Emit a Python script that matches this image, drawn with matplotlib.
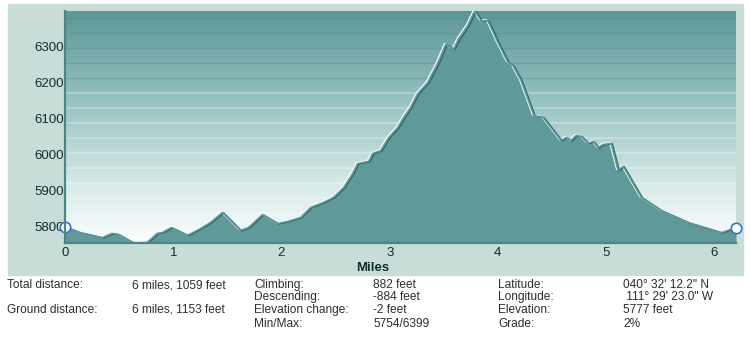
import numpy as np
import matplotlib
matplotlib.use('Agg')
import matplotlib.pyplot as plt
import matplotlib.patheffects as pe
from matplotlib.colors import LinearSegmentedColormap
from matplotlib.patches import Rectangle

plt.rcParams['font.family'] = ['Liberation Sans', 'DejaVu Sans']

# elevation profile: distance (miles) vs elevation (feet)
miles = [0.000, 0.139, 0.259, 0.343, 0.435, 0.491, 0.620, 0.648, 0.759, 0.852,
         0.898, 0.981, 1.093, 1.130, 1.250, 1.343, 1.454, 1.620, 1.694, 1.824,
         1.963, 2.056, 2.176, 2.269, 2.389, 2.481, 2.574, 2.657, 2.704, 2.806,
         2.843, 2.917, 2.991, 3.074, 3.130, 3.194, 3.259, 3.352, 3.444, 3.519,
         3.565, 3.593, 3.639, 3.722, 3.787, 3.843, 3.907, 4.000, 4.093, 4.139,
         4.213, 4.333, 4.417, 4.583, 4.630, 4.676, 4.722, 4.769, 4.833, 4.880,
         4.926, 4.972, 5.046, 5.111, 5.157, 5.324, 5.509, 5.759, 5.944, 6.065,
         6.2006]
elev = [5799, 5783, 5775, 5769, 5781, 5778, 5756, 5754, 5756, 5781,
        5783, 5797, 5781, 5775, 5794, 5811, 5839, 5789, 5797, 5833,
        5808, 5814, 5825, 5853, 5867, 5881, 5908, 5947, 5975, 5981,
        6003, 6011, 6047, 6075, 6103, 6131, 6169, 6200, 6253, 6306,
        6297, 6294, 6322, 6358, 6399, 6372, 6372, 6311, 6256, 6247,
        6206, 6108, 6103, 6039, 6047, 6039, 6053, 6050, 6031, 6036,
        6019, 6028, 6031, 5956, 5967, 5881, 5844, 5811, 5794, 5783,
        5797]

x_ticks = [0, 1, 2, 3, 4, 5, 6]
y_ticks = [5800, 5900, 6000, 6100, 6200, 6300]
y_min, y_max = 5754, 6399
total_miles = 6.2006

# summary table below the chart, one list per column
col1 = ['Total distance:', '', 'Ground distance:', '']
col2 = ['6 miles, 1059 feet', '', '6 miles, 1153 feet', '']
col3 = ['Climbing:', 'Descending:', 'Elevation change:', 'Min/Max:']
col4 = ['882 feet', '-884 feet', '-2 feet', '5754/6399']
col5 = ['Latitude:', 'Longitude:', 'Elevation:', 'Grade:']
col6 = ['040\u00b0 32\' 12.2" N', ' 111\u00b0 29\' 23.0" W', '5777 feet', '2%']

W, H = 750, 342
fig = plt.figure(figsize=(W / 100, H / 100), dpi=100)
panel = Rectangle((8 / W, 1 - 275 / H), 735 / W, 271 / H,
                  transform=fig.transFigure, color='#c8ddd7', zorder=-5)
fig.add_artist(panel)

ax = fig.add_axes([65 / W, 99 / H, 671 / W, 232 / H])
ax.set_zorder(1)
ax.patch.set_alpha(0)
ax.set_xlim(0, total_miles)
ax.set_ylim(y_min, y_max)

# vertical gradient background, dark teal at top fading to white
cmap = LinearSegmentedColormap.from_list('bg', [
    (0.0, (0.365, 0.592, 0.592)),
    (0.45, (0.63, 0.79, 0.78)),
    (0.75, (0.84, 0.92, 0.91)),
    (1.0, (0.99, 0.997, 0.997))])
grad = np.linspace(0, 1, 256).reshape(-1, 1)
ax.imshow(grad, extent=[0, 1, 0, 1], transform=ax.transAxes, aspect='auto',
          cmap=cmap, zorder=0, origin='upper')

# banding lines across the background
for py in range(18, 243, 15):
    frac = 1 - (py - 11) / 232
    if py <= 78:
        ax.plot([0, 1], [frac, frac], transform=ax.transAxes, color='#4f8686',
                lw=1, alpha=0.35, zorder=1)
    else:
        ax.plot([0, 1], [frac, frac], transform=ax.transAxes, color='white',
                lw=1.1, alpha=0.35, zorder=1)

fill_col = '#5f9999'
ax.fill_between(miles, elev, y_min, color=fill_col, lw=0, zorder=2)
ax.plot(miles, elev, color=fill_col, lw=1, zorder=3,
        path_effects=[pe.SimpleLineShadow(offset=(-1.0, 0.6), shadow_color='#eef8f6', alpha=1),
                      pe.SimpleLineShadow(offset=(1.0, -0.3), shadow_color='#2b5f5f', alpha=0.9),
                      pe.Normal()])

# start/end markers
ax.plot([0, 0], [y_min, elev[0]], color='white', lw=1.5, zorder=4, clip_on=False)
ax.plot([miles[0], miles[-1]], [elev[0], elev[-1]], ls='none', marker='o', ms=7.5,
        mfc='white', mec='#3b6fd6', mew=1.2, zorder=5, clip_on=False)

for side in ['top', 'right']:
    ax.spines[side].set_visible(False)
for side in ['left', 'bottom']:
    ax.spines[side].set_color('#4a8686')
    ax.spines[side].set_linewidth(1.6)
    ax.spines[side].set_zorder(6)

ax.set_xticks(x_ticks)
ax.set_yticks(y_ticks)
ax.tick_params(axis='both', length=0, labelsize=9.5, labelcolor='#0f2f2d')
ax.tick_params(axis='y', pad=1)
ax.tick_params(axis='x', pad=3)

fig.text(373 / W, 1 - 268 / H, 'Miles', ha='center', va='center',
         fontsize=9.5, fontweight='bold', color='#0f2f2d')

row_y = [285, 297, 310, 324]
col_x = [7, 132, 254, 373, 498, 623]
for x, col in zip(col_x, [col1, col2, col3, col4, col5, col6]):
    for y, s in zip(row_y, col):
        if s:
            fig.text(x / W, 1 - y / H, s, ha='left', va='center',
                     fontsize=8.6, color='#2e2e2e')

fig.savefig('out.png', dpi=100)
